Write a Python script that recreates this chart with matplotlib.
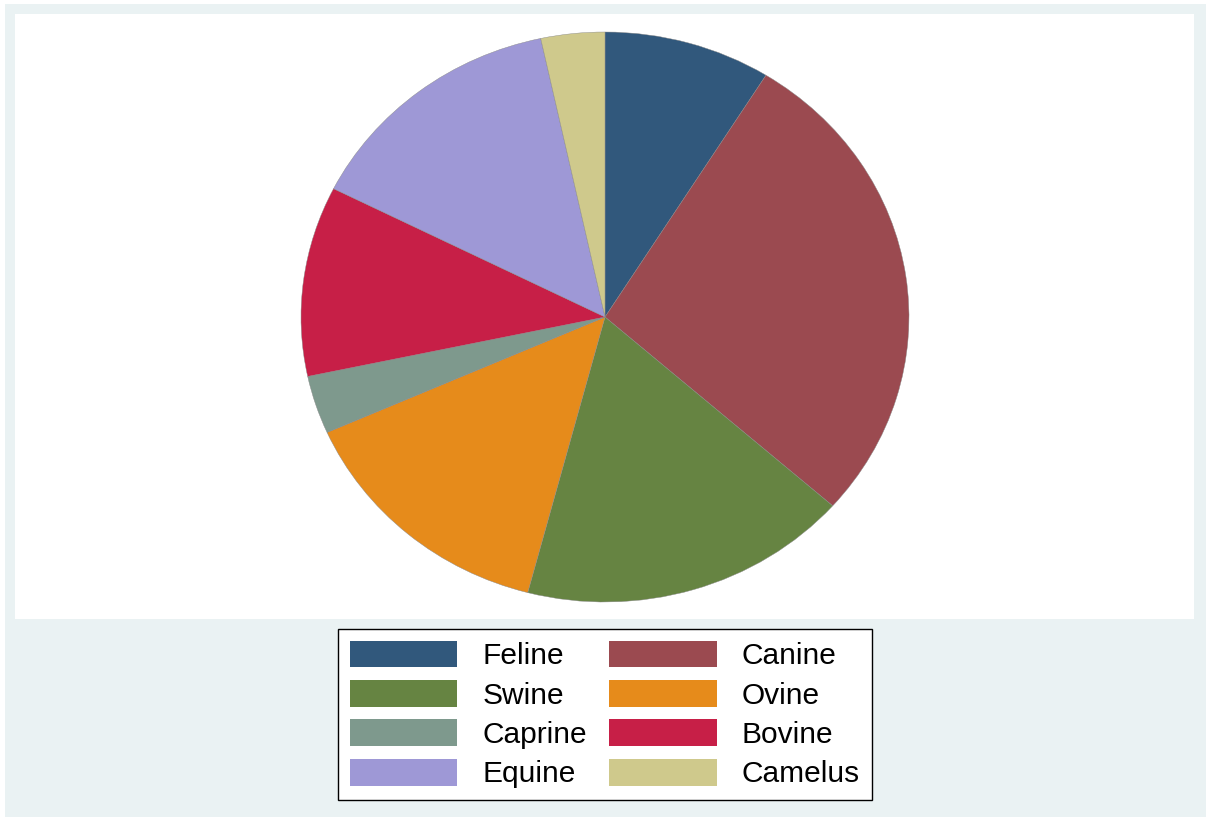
import matplotlib
matplotlib.use("Agg")
import matplotlib.pyplot as plt
from matplotlib.patches import Rectangle, Patch

categories = ["Feline", "Canine", "Swine", "Ovine", "Caprine", "Bovine", "Equine", "Camelus"]
shares = [8.9, 27.7, 17.6, 14.3, 3.3, 10.8, 14.2, 3.4]
colors = ["#31587C", "#9B4A50", "#668442", "#E68B1B", "#7E998D", "#C71F47", "#9E98D6", "#CFC98C"]
legend_order = ["Feline", "Canine", "Swine", "Ovine", "Caprine", "Bovine", "Equine", "Camelus"]

plt.rcParams['font.family'] = ['Liberation Sans', 'DejaVu Sans']

W, H = 1208, 818
fig = plt.figure(figsize=(W / 100, H / 100), dpi=100)
fig.patch.set_facecolor("white")

def px(x0, y0, x1, y1):
    return [x0 / W, 1 - y1 / H, (x1 - x0) / W, (y1 - y0) / H]

# background axes: outer light panel and inner white plot region
bg = fig.add_axes([0, 0, 1, 1], zorder=-5)
bg.set_xlim(0, W)
bg.set_ylim(H, 0)
bg.axis("off")
bg.add_patch(Rectangle((5, 4), 1201, 813, facecolor="#EAF2F3", edgecolor="none"))
bg.add_patch(Rectangle((15, 14), 1179, 605, facecolor="white", edgecolor="none"))

ax = fig.add_axes(px(301, 32, 909, 602), zorder=1)
ax.pie(shares, colors=colors, startangle=90, counterclock=False, radius=1,
       wedgeprops=dict(linewidth=0.3, edgecolor="#888888"))
ax.set_aspect("auto")
ax.set_xlim(-1, 1)
ax.set_ylim(-1, 1)
ax.axis("off")

cmap = dict(zip(categories, colors))
handles = [Patch(facecolor=cmap[c], edgecolor="none") for c in legend_order]
order = [0, 2, 4, 6, 1, 3, 5, 7]
leg = fig.legend([handles[i] for i in order], [legend_order[i] for i in order],
                 ncol=2, loc="center", bbox_to_anchor=(605 / W, 1 - 714.5 / H),
                 fontsize=21.5, handlelength=3.6, handleheight=1.0,
                 handletextpad=0.85, columnspacing=0.72, labelspacing=0.33,
                 borderpad=0.4, borderaxespad=0, frameon=True, fancybox=False,
                 framealpha=1)
leg.get_frame().set_edgecolor("black")
leg.get_frame().set_linewidth(1.0)
leg.set_zorder(10)

fig.savefig("out.png", dpi=100)
